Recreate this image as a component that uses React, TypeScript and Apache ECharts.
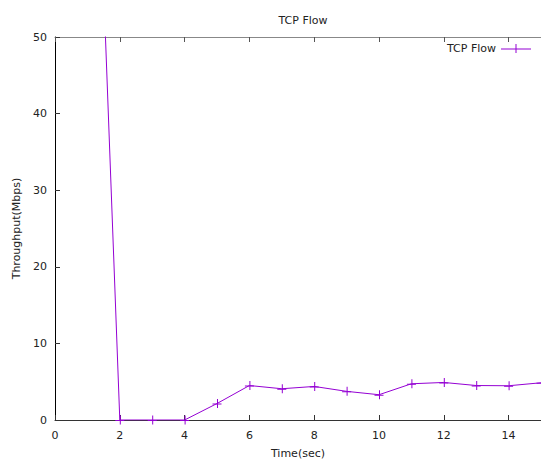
import React, { useEffect, useRef } from "react";
import * as echarts from "echarts";

const times = [1, 2, 3, 4, 5, 6, 7, 8, 9, 10, 11, 12, 13, 14, 15];
const throughput = [113, 0, 0, 0, 2.15, 4.5, 4.08, 4.38, 3.74, 3.3, 4.73, 4.9, 4.5, 4.47, 4.86];
const seriesName = "TCP Flow";
const titleText = "TCP Flow";
const xName = "Time(sec)";
const yName = "Throughput(Mbps)";

const FONT = "DejaVu Sans";
const COLOR = "#9400d3";
const plusIcon = "path://M0,4.5 L9,4.5 L9,5.5 L0,5.5 Z M4.5,0 L5.5,0 L5.5,9 L4.5,9 Z";
const legendIcon = "path://M0,4.5 L30,4.5 L30,5.5 L0,5.5 Z M14.5,0 L15.5,0 L15.5,9 L14.5,9 Z";

export default function App() {
  const ref = useRef<HTMLDivElement>(null);
  useEffect(() => {
    if (!ref.current) return;
    const chart = echarts.init(ref.current, null, { renderer: "svg" });
    const text = { fontFamily: FONT, fontSize: 11, color: "#222" };
    chart.setOption({
      animation: false,
      backgroundColor: "#fff",
      title: {
        text: titleText,
        left: 298,
        top: 10,
        textAlign: "center",
        textStyle: { ...text, fontWeight: "normal" },
      },
      legend: {
        data: [{ name: seriesName, icon: legendIcon }],
        right: 10,
        top: 43,
        align: "right",
        itemWidth: 30,
        itemHeight: 9,
        itemGap: 5,
        textStyle: { ...text },
        padding: 0,
      },
      grid: { left: 55, right: 0, top: 37, bottom: 39, containLabel: false },
      xAxis: [
        {
          type: "value",
          min: 0,
          max: 15,
          interval: 2,
          name: xName,
          nameLocation: "middle",
          nameGap: 28,
          nameTextStyle: { ...text },
          axisLine: { show: true, lineStyle: { color: "#333", width: 1 } },
          axisTick: { show: true, inside: true, length: 5, lineStyle: { color: "#333" } },
          axisLabel: { ...text, margin: 10, showMaxLabel: false },
          splitLine: { show: false },
        },
        {
          type: "value",
          position: "top",
          min: 0,
          max: 15,
          interval: 2,
          axisLine: { show: true, onZero: false, lineStyle: { color: "#888", width: 1 } },
          axisTick: { show: true, inside: true, length: 5, lineStyle: { color: "#555" } },
          axisLabel: { show: false },
          splitLine: { show: false },
        },
      ],
      yAxis: {
        type: "value",
        min: 0,
        max: 50,
        interval: 10,
        name: yName,
        nameLocation: "middle",
        nameGap: 33,
        nameTextStyle: { ...text },
        axisLine: { show: true, lineStyle: { color: "#000", width: 1 } },
        axisTick: { show: true, inside: true, length: 5, lineStyle: { color: "#333" } },
        axisLabel: { ...text, margin: 8 },
        splitLine: { show: false },
      },
      series: [
        {
          name: seriesName,
          type: "line",
          xAxisIndex: 0,
          clip: true,
          data: times.map((t, i) => [t, throughput[i]]),
          symbol: plusIcon,
          symbolSize: 9,
          showAllSymbol: true,
          lineStyle: { color: COLOR, width: 1 },
          itemStyle: { color: COLOR },
          emphasis: { disabled: true },
        },
      ],
    });
    return () => chart.dispose();
  }, []);
  return (
    <div
      ref={ref}
      style={{ position: "absolute", left: 0, top: 0, width: 541, height: 464 }}
    />
  );
}
